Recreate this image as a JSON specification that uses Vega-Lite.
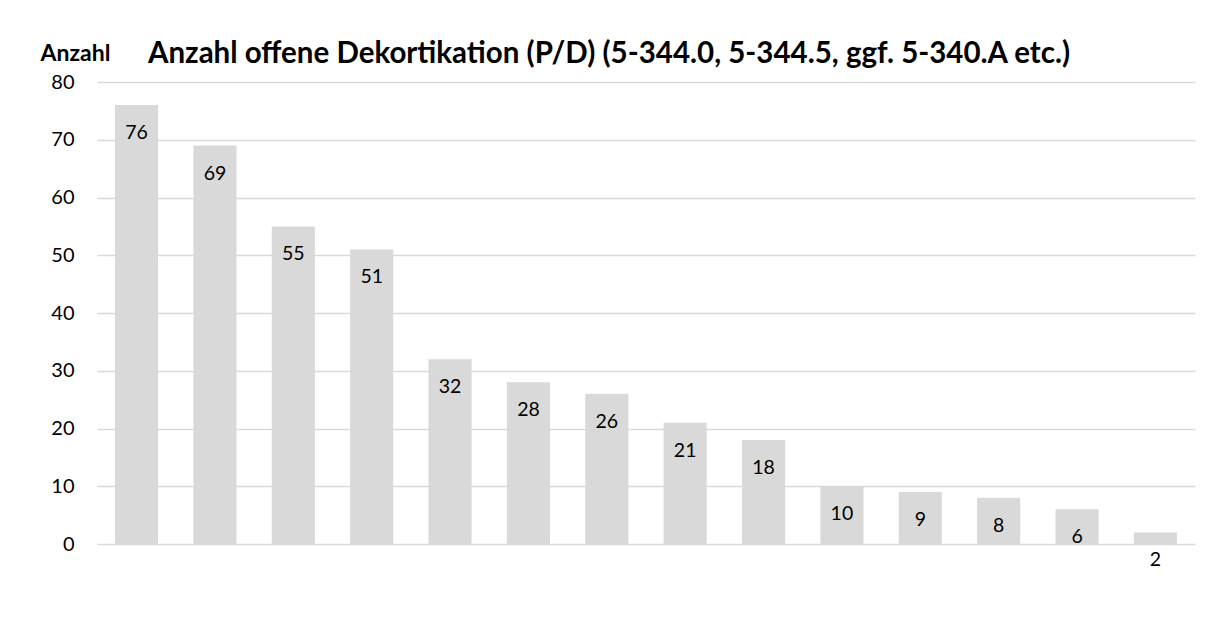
{
  "$schema": "https://vega.github.io/schema/vega-lite/v6.json",
  "width": 1098,
  "height": 462,
  "autosize": {"type": "none"},
  "padding": {"left": 97, "top": 82, "right": 18, "bottom": 92},
  "background": "white",
  "config": {
    "font": "Lato",
    "view": {"stroke": null}
  },
  "title": {
    "text": "Anzahl offene Dekortikation (P/D) (5-344.0, 5-344.5, ggf. 5-340.A etc.)",
    "fontSize": 29.5,
    "fontWeight": "bold",
    "color": "#000000",
    "anchor": "start",
    "frame": "group",
    "dx": 51,
    "dy": 41,
    "baseline": "middle",
    "offset": 0
  },
  "data": {
    "values": [
      {"cat": "1", "value": 76},
      {"cat": "2", "value": 69},
      {"cat": "3", "value": 55},
      {"cat": "4", "value": 51},
      {"cat": "5", "value": 32},
      {"cat": "6", "value": 28},
      {"cat": "7", "value": 26},
      {"cat": "8", "value": 21},
      {"cat": "9", "value": 18},
      {"cat": "10", "value": 10},
      {"cat": "11", "value": 9},
      {"cat": "12", "value": 8},
      {"cat": "13", "value": 6},
      {"cat": "14", "value": 2}
    ]
  },
  "encoding": {
    "x": {
      "field": "cat",
      "type": "nominal",
      "sort": null,
      "scale": {"paddingInner": 0.45, "paddingOuter": 0.23},
      "axis": null
    },
    "y": {
      "field": "value",
      "type": "quantitative",
      "scale": {"domain": [0, 80], "nice": false},
      "axis": {
        "values": [0, 10, 20, 30, 40, 50, 60, 70, 80],
        "title": "Anzahl",
        "titleAngle": 0,
        "titleFontSize": 23,
        "titleFontWeight": "bold",
        "titleColor": "#000000",
        "titleAlign": "center",
        "titleBaseline": "middle",
        "titleX": -22,
        "titleY": -29,
        "labelFontSize": 20,
        "labelColor": "#000000",
        "labelPadding": 23,
        "domain": false,
        "ticks": false,
        "gridColor": "#d9d9d9",
        "gridWidth": 1.5
      }
    }
  },
  "layer": [
    {"mark": {"type": "bar", "color": "#d9d9d9"}},
    {
      "mark": {"type": "text", "baseline": "middle", "align": "center", "dy": 28, "fontSize": 19.5, "color": "#000000"},
      "encoding": {"text": {"field": "value", "type": "quantitative"}}
    }
  ]
}
